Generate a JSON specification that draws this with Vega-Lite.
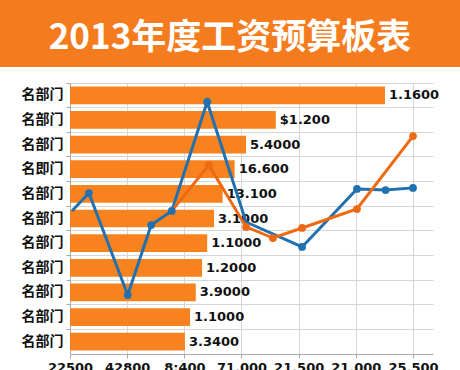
{
  "$schema": "https://vega.github.io/schema/vega-lite/v6.json",
  "padding": 0,
  "background": "white",
  "config": {"view": {"stroke": null}},
  "datasets": {
    "banner": [{"title": "2013年度工资预算板表"}],
    "bars": [
      {"id": 1, "dept": "名部门", "value": 5.51, "label": "1.1600"},
      {"id": 2, "dept": "名部门", "value": 3.60, "label": "$1.200"},
      {"id": 3, "dept": "名部门", "value": 3.08, "label": "5.4000"},
      {"id": 4, "dept": "名即门", "value": 2.88, "label": "16.600"},
      {"id": 5, "dept": "名部门", "value": 2.67, "label": "13.100"},
      {"id": 6, "dept": "名部门", "value": 2.52, "label": "3.1000"},
      {"id": 7, "dept": "名部门", "value": 2.40, "label": "1.1000"},
      {"id": 8, "dept": "名部门", "value": 2.31, "label": "1.2000"},
      {"id": 9, "dept": "名部门", "value": 2.20, "label": "3.9000"},
      {"id": 10, "dept": "名部门", "value": 2.10, "label": "1.1000"},
      {"id": 11, "dept": "名部门", "value": 2.01, "label": "3.3400"}
    ],
    "lines": [
      {"series": "blue", "step": 0, "x": 0.035, "y": 5.28},
      {"series": "blue", "step": 1, "x": 0.33, "y": 5.94},
      {"series": "blue", "step": 2, "x": 1.01, "y": 2.18},
      {"series": "blue", "step": 3, "x": 1.42, "y": 4.76},
      {"series": "blue", "step": 4, "x": 1.78, "y": 5.28},
      {"series": "blue", "step": 5, "x": 2.40, "y": 9.30},
      {"series": "blue", "step": 6, "x": 3.08, "y": 4.87},
      {"series": "blue", "step": 7, "x": 4.06, "y": 3.95},
      {"series": "blue", "step": 8, "x": 5.02, "y": 6.09},
      {"series": "blue", "step": 9, "x": 5.52, "y": 6.05},
      {"series": "blue", "step": 10, "x": 6.00, "y": 6.13},
      {"series": "orange", "step": 0, "x": 1.78, "y": 5.28},
      {"series": "orange", "step": 1, "x": 2.43, "y": 6.97},
      {"series": "orange", "step": 2, "x": 3.08, "y": 4.69},
      {"series": "orange", "step": 3, "x": 3.55, "y": 4.28},
      {"series": "orange", "step": 4, "x": 4.06, "y": 4.65},
      {"series": "orange", "step": 5, "x": 5.02, "y": 5.35},
      {"series": "orange", "step": 6, "x": 6.00, "y": 8.04}
    ]
  },
  "columns": 2,
  "bounds": "flush",
  "align": "each",
  "spacing": {"row": 16, "column": 0},
  "concat": [
    {
      "width": 70, "height": 67,
      "view": {"fill": "#F57C1E", "stroke": null},
      "data": {"values": []},
      "mark": "point",
      "encoding": {}
    },
    {
      "width": 390, "height": 67,
      "view": {"fill": "#F57C1E", "stroke": null},
      "data": {"name": "banner"},
      "mark": {"type": "text", "font": "Noto Sans CJK SC", "fontSize": 35, "fontWeight": "bold", "color": "white", "dx": -35, "dy": 4, "align": "center", "baseline": "middle"},
      "encoding": {"text": {"field": "title"}}
    },
    {
      "width": 70, "height": 271,
      "data": {"values": []},
      "mark": "point",
      "encoding": {}
    },
    {
      "width": 363, "height": 271,
      "resolve": {"scale": {"y": "independent"}},
      "layer": [
        {
          "data": {"name": "bars"},
          "encoding": {
            "y": {"field": "id", "type": "ordinal", "scale": {"paddingInner": 0, "paddingOuter": 0},
              "axis": {"title": null, "labelExpr": "datum.value == 4 ? '名即门' : '名部门'", "bandPosition": 0, "grid": true, "gridColor": "#D6D6D6", "domainColor": "#AAAAAA", "tickColor": "#AAAAAA", "tickSize": 4, "labelPadding": 3, "labelFont": "Noto Sans CJK SC", "labelFontSize": 14, "labelFontWeight": "bold", "labelColor": "#111111"}},
            "x": {"field": "value", "type": "quantitative", "scale": {"domain": [0, 6.35], "nice": false, "zero": true},
              "axis": {"title": null, "values": [0, 0.5, 1, 1.5, 2, 2.5, 3, 3.5, 4, 4.5, 5, 5.5, 6],
                "labelExpr": "datum.value % 1 == 0 ? ['22500','42800','8:400','71,000','21,500','21,000','25,500'][datum.value] : ''",
                "grid": true, "gridColor": "#D6D6D6", "gridOpacity": {"condition": {"test": "datum.value % 1 != 0", "value": 0}, "value": 1},
                "domainColor": "#AAAAAA", "tickColor": "#AAAAAA", "tickSize": 4, "labelPadding": 3, "labelFlush": false, "labelOverlap": false,
                "labelFont": "DejaVu Sans", "labelFontSize": 13, "labelFontWeight": "bold", "labelColor": "#111111"}}
          },
          "layer": [
            {"mark": {"type": "bar", "color": "#F7821E", "height": {"band": 0.72}}},
            {
              "mark": {"type": "text", "align": "left", "baseline": "middle", "dx": 4, "font": "DejaVu Sans", "fontSize": 13, "fontWeight": "bold", "color": "#111111"},
              "encoding": {"text": {"field": "label"}}
            }
          ]
        },
        {
          "data": {"name": "lines"},
          "encoding": {
            "x": {"field": "x", "type": "quantitative"},
            "y": {"field": "y", "type": "quantitative", "scale": {"domain": [0, 10], "nice": false}, "axis": null},
            "color": {"field": "series", "type": "nominal", "scale": {"domain": ["blue", "orange"], "range": ["#2171B0", "#EE6A12"]}, "legend": null}
          },
          "layer": [
            {
              "mark": {"type": "line", "strokeWidth": 3},
              "encoding": {"order": {"field": "step"}}
            },
            {
              "transform": [{"filter": "!(datum.series == 'blue' && (datum.step == 0 || datum.step == 6)) && !(datum.series == 'orange' && datum.step == 0)"}],
              "mark": {"type": "point", "filled": true, "opacity": 1, "size": 60}
            }
          ]
        }
      ]
    }
  ]
}
